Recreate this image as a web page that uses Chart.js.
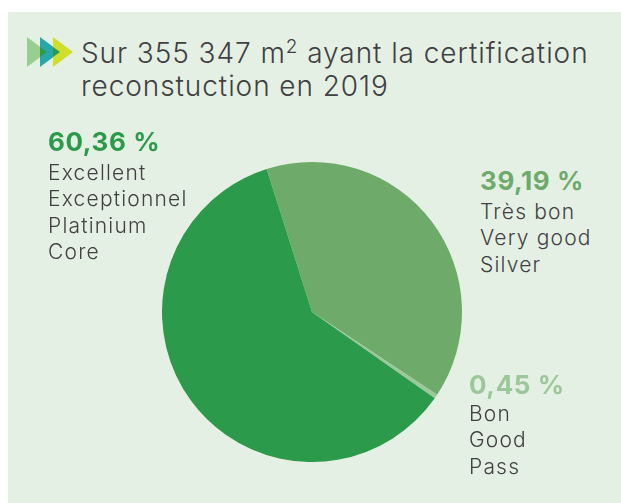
<!DOCTYPE html>
<html lang="fr">
<head>
<meta charset="utf-8">
<title>Certification reconstruction 2019</title>
<script src="https://cdn.jsdelivr.net/npm/chart.js@4/dist/chart.umd.min.js"></script>
<style>
  html, body { margin: 0; padding: 0; background: #fff; }
  #page { position: relative; width: 621px; height: 503px; overflow: hidden; font-family: Inter, "Open Sans", sans-serif; color: #414042; }
  #panel { position: absolute; left: 8px; top: 12px; width: 613px; height: 491px; background: #e5f0e5; }
  #chart-box { position: absolute; left: 152px; top: 152px; width: 320px; height: 320px; }
  #title { position: absolute; left: 81px; top: 37px; font-size: 28px; line-height: 33px; font-weight: 300; letter-spacing: 0.93px; white-space: nowrap; }
  #title sup { font-size: 19px; line-height: 0; }
  #arrows { position: absolute; left: 27px; top: 37px; }
  .lbl { position: absolute; white-space: nowrap; font-size: 21px; font-weight: 300; line-height: 26.4px; letter-spacing: 1.2px; }
  .lbl b { display: block; font-size: 26px; font-weight: 700; letter-spacing: 0.6px; }
</style>
</head>
<body>
<div id="page">
  <div id="panel"></div>
  <svg id="arrows" width="48" height="30">
    <polygon points="0,0 20,15 0,30" fill="#97cf8f"/>
    <polygon points="13,0 33,15 13,30" fill="#27a6ab"/>
    <polygon points="26,0 46,15 26,30" fill="#cfdf2c"/>
    <polygon points="13,10 20,15 13,20" fill="#2b9a4c"/>
    <polygon points="26,10 33,15 26,20" fill="#2b9a4c"/>
  </svg>
  <div id="title">Sur 355 347 m<sup>2</sup> ayant la certification<br>reconstuction en 2019</div>
  <div id="chart-box"><canvas id="pie"></canvas></div>
  <div id="labels"></div>
</div>
<script>
/* ---------- Data ---------- */
const values = [39.19, 0.45, 60.36];
const valueLabels = ['39,19 %', '0,45 %', '60,36 %'];
const lineLabels = [
    ['Très bon', 'Very good', 'Silver'],
    ['Bon', 'Good', 'Pass'],
    ['Excellent', 'Exceptionnel', 'Platinium', 'Core'],
];
const sliceColors = ['#6eab6b', '#9cc79a', '#2b9a4a'];
const labelColors = ['#6eab6b', '#9cc79a', '#2b9a4a'];

// where each label block sits: left, top, height of the percent line
const labelSpots = [[480, 162, 37], [469, 369, 32], [48, 124, 36]];

/* ---------- Labels ---------- */
const labelsEl = document.getElementById('labels');
valueLabels.forEach((text, i) => {
    const el = document.createElement('div');
    el.className = 'lbl';
    el.style.left = labelSpots[i][0] + 'px';
    el.style.top = labelSpots[i][1] + 'px';
    const head = document.createElement('b');
    head.textContent = text;
    head.style.color = labelColors[i];
    head.style.lineHeight = labelSpots[i][2] + 'px';
    el.appendChild(head);
    lineLabels[i].forEach(line => {
        const row = document.createElement('div');
        row.textContent = line;
        el.appendChild(row);
    });
    labelsEl.appendChild(el);
});

/* ---------- Chart ---------- */
new Chart(document.getElementById('pie'), {
    type: 'pie',
    data: {
        labels: lineLabels.map(l => l[0]),
        datasets: [{
            data: values,
            backgroundColor: sliceColors,
            borderWidth: 0,
        }],
    },
    options: {
        responsive: true,
        maintainAspectRatio: false,
        animation: false,
        rotation: -17.6,
        layout: { padding: 10 },
        plugins: { legend: { display: false }, tooltip: { enabled: false } },
    },
});
</script>
</body>
</html>
